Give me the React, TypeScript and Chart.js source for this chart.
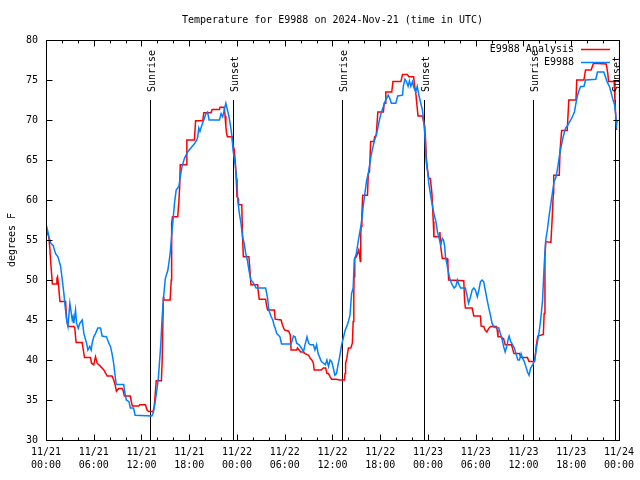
import React, { useEffect, useRef } from "react";
import { Chart, registerables } from "chart.js";

Chart.register(...registerables);

const TITLE = "Temperature for E9988 on 2024-Nov-21 (time in UTC)";
const Y_LABEL = "degrees F";
const SERIES_NAMES = ["E9988 Analysis", "E9988"];
const SERIES_COLORS = ["#ff0000", "#0080ff"];

const X_TICK_DATES = ["11/21", "11/21", "11/21", "11/21", "11/22", "11/22", "11/22", "11/22", "11/23", "11/23", "11/23", "11/23", "11/24"];
const X_TICK_TIMES = ["00:00", "06:00", "12:00", "18:00", "00:00", "06:00", "12:00", "18:00", "00:00", "06:00", "12:00", "18:00", "00:00"];

const SUNRISE_HOURS = [13.1, 37.15, 61.15];
const SUNSET_HOURS = [23.45, 47.47, 71.46];

// hours since 11/21 00:00 UTC
const analysisHours = [0.0,0.2,0.35,0.5,0.6,0.75,0.8,1.3,1.37,1.45,1.55,1.75,2.46,2.6,2.76,3.5,3.62,3.71,3.79,4.55,4.68,4.84,5.6,5.72,6.0,6.22,6.43,6.85,7.27,7.68,8.3,8.51,8.64,8.85,9.14,9.56,9.68,9.85,10.6,10.72,10.85,11.65,11.78,12.5,12.7,12.9,13.45,13.6,13.7,13.85,14.5,14.6,14.75,14.8,15.6,15.74,15.78,15.8,15.9,16.55,16.7,16.8,16.87,17.6,17.7,18.65,18.8,19.7,19.83,20.74,20.87,21.8,21.87,22.4,22.5,22.6,22.7,22.8,23.4,23.5,23.66,23.8,23.9,24.0,24.15,24.2,24.6,24.7,24.8,25.5,25.6,25.75,26.6,26.7,26.8,27.6,27.7,27.85,28.7,28.8,29.55,29.7,29.97,30.5,30.7,30.8,31.5,31.6,32.0,32.35,32.56,33.0,33.2,33.4,33.6,33.7,34.6,34.85,35.15,35.3,35.5,35.7,35.9,36.5,36.9,37.5,37.58,37.65,37.8,38.0,38.3,38.5,38.6,38.68,38.72,38.8,39.0,39.15,39.3,39.4,39.5,39.55,39.6,39.7,39.8,40.4,40.5,40.65,40.8,41.2,41.3,41.5,41.7,42.4,42.5,42.65,42.7,43.45,43.6,44.6,44.8,45.4,45.6,46.2,46.3,46.46,46.6,46.75,47.3,47.5,47.6,47.7,47.8,47.95,48.1,48.3,48.5,48.67,48.75,49.4,49.5,49.6,49.8,50.4,50.5,50.6,52.5,52.6,52.7,53.55,53.76,54.6,54.68,55.0,55.2,55.4,55.6,55.85,56.6,56.7,56.8,57.2,57.3,57.5,57.6,57.7,58.5,58.8,59.5,59.7,60.5,60.7,61.4,61.5,61.6,61.8,62.5,62.6,62.7,62.8,63.45,63.6,63.75,63.8,64.5,64.6,64.8,65.5,65.7,66.6,66.7,67.6,67.8,68.5,68.8,70.4,70.6,70.7,71.4,71.5,71.6,71.7];
const analysisTemps = [56.3,55.8,55.4,53.75,52.1,50.2,49.5,49.5,50.2,50.4,49.6,47.3,47.3,45.0,44.2,44.2,44.0,42.9,42.2,42.2,41.3,40.3,40.3,39.6,39.4,40.4,39.6,39.2,38.75,38.0,38.0,37.5,37.1,36.1,36.45,36.45,36.25,35.5,35.5,34.8,34.25,34.25,34.4,34.4,33.75,33.55,33.55,34.2,35.4,37.4,37.4,40.0,47.9,47.5,47.5,50.0,54.0,57.1,57.9,57.9,59.8,61.7,64.4,64.4,67.5,67.5,69.9,69.9,70.9,70.9,71.3,71.3,71.6,71.6,70.5,69.2,68.3,67.9,67.9,66.9,66.25,64.6,62.7,60.4,60.2,59.4,59.4,55.4,52.9,52.9,51.6,49.4,49.4,48.3,47.6,47.6,46.9,46.25,46.25,45.1,45.0,44.4,43.75,43.6,43.1,41.25,41.25,41.5,41.0,41.0,40.8,40.6,40.2,40.0,39.6,38.75,38.75,39.0,39.0,38.3,38.3,37.9,37.6,37.6,37.5,37.5,38.3,39.6,40.2,41.5,41.5,42.1,44.8,48.3,50.4,52.7,52.9,53.3,53.75,53.1,52.3,55.4,56.7,58.3,60.6,60.6,63.3,63.5,67.3,67.3,67.9,68.1,71.0,71.0,72.1,72.1,73.5,73.5,74.8,74.8,75.7,75.7,75.4,75.4,74.4,73.5,72.0,70.5,70.5,69.6,69.2,67.5,65.2,63.75,62.7,62.7,60.8,57.3,55.4,55.4,56.0,54.2,52.7,52.7,52.1,50.0,49.9,47.5,46.5,46.5,45.5,45.5,44.25,44.2,43.7,43.5,43.9,44.2,44.2,43.75,42.9,42.9,42.7,42.7,42.3,41.9,41.9,40.8,40.8,40.3,40.3,39.8,39.8,40.6,41.7,43.0,43.2,45.8,52.9,54.8,54.7,57.5,60.8,63.1,63.1,66.25,68.7,68.7,72.5,72.5,75.0,75.0,76.25,76.25,77.1,77.0,75.8,74.8,74.8,72.3,70.4,68.75];

const stationHours = [0.0,0.2,0.4,0.6,0.9,1.2,1.5,1.84,2.0,2.25,2.4,2.6,2.76,3.0,3.3,3.4,3.5,3.71,3.84,4.05,4.26,4.55,4.76,5.1,5.26,5.5,5.68,5.8,6.0,6.22,6.51,6.85,7.05,7.6,7.9,8.1,8.3,8.5,8.7,8.83,9.77,9.89,10.1,10.43,10.6,11.0,11.2,13.3,13.5,13.7,14.1,14.4,14.6,14.78,15.0,15.32,15.6,15.78,16.0,16.15,16.36,16.7,16.87,17.1,17.4,17.8,18.2,18.7,18.95,19.07,19.2,19.35,19.6,19.9,20.1,20.3,20.5,21.8,22.0,22.2,22.4,22.6,22.8,23.0,23.2,23.35,23.5,23.8,24.0,24.1,24.3,24.5,24.7,24.9,25.1,25.3,25.5,25.75,25.95,26.2,26.4,27.6,27.85,28.0,28.3,28.5,28.7,28.8,29.0,29.4,29.6,30.8,31.1,31.3,31.5,31.8,32.1,32.35,32.55,32.8,33.0,33.2,33.6,33.8,34.0,34.2,34.6,35.1,35.3,35.5,35.7,35.9,36.1,36.3,36.5,36.7,36.9,37.15,37.4,37.6,37.8,38.0,38.2,38.4,38.6,38.74,39.0,39.2,39.4,39.56,39.73,39.86,40.07,40.3,40.5,40.7,40.9,41.1,41.3,41.5,41.7,41.9,42.1,42.4,42.6,42.8,43.0,43.2,43.4,43.96,44.2,44.8,44.9,45.1,45.3,45.5,45.67,45.85,46.05,46.25,46.46,46.65,46.9,47.1,47.3,47.4,47.6,47.7,47.8,47.99,48.1,48.3,48.5,48.75,49.0,49.2,49.4,49.6,49.8,49.95,50.1,50.2,50.4,50.6,50.8,51.05,51.3,51.5,51.7,51.9,52.1,52.7,52.9,53.1,53.35,53.55,53.76,53.96,54.2,54.4,54.6,54.8,55.0,55.2,55.4,55.6,55.85,56.05,56.3,56.9,57.1,57.3,57.5,57.7,57.95,58.1,58.2,58.4,58.65,58.85,59.06,59.3,59.5,59.7,59.9,60.1,60.3,60.5,60.7,60.9,61.15,61.4,61.6,61.8,62.0,62.2,62.4,62.6,62.8,63.0,63.2,63.45,63.65,63.85,64.1,64.3,64.5,64.7,64.9,65.1,65.3,65.5,65.7,65.95,66.15,66.4,66.6,66.8,67.0,67.2,67.6,67.8,69.1,69.3,70.1,70.3,70.5,70.8,71.0,71.2,71.45,71.6,71.7,71.8];
const stationTemps = [57.0,56.2,55.3,54.6,54.3,53.3,52.9,51.7,50.4,48.3,46.7,45.0,44.2,47.1,45.0,45.4,44.6,46.25,44.6,43.96,44.6,45.0,43.3,42.1,41.25,41.7,41.25,42.1,42.9,43.3,44.0,44.0,43.0,42.9,42.1,41.7,40.8,39.6,37.9,36.95,36.95,36.0,35.0,34.8,34.0,34.0,33.1,33.0,33.5,34.6,37.5,41.6,45.4,47.9,50.2,51.25,53.3,55.4,57.9,59.6,61.25,61.7,62.9,64.2,65.2,66.0,66.5,67.1,67.5,67.9,69.0,68.6,69.4,70.2,70.8,71.0,70.0,70.0,70.8,70.4,71.25,72.1,71.25,70.4,69.2,68.1,66.25,64.2,62.1,60.0,58.3,57.1,55.4,54.6,53.3,52.5,51.25,50.0,49.8,49.4,49.0,49.0,47.7,46.25,45.4,45.0,44.2,44.0,43.3,42.9,42.0,42.0,43.0,42.9,42.1,41.9,41.5,41.0,41.9,42.9,42.1,41.9,41.9,41.25,41.9,40.8,39.8,39.4,40.0,39.2,40.0,39.8,39.0,38.1,38.3,39.4,40.4,41.9,42.9,43.75,44.2,44.8,45.6,48.3,49.0,52.5,53.3,54.6,55.8,56.7,57.9,59.2,60.8,62.5,63.3,64.6,65.8,66.7,67.5,68.1,69.0,70.0,70.8,71.7,72.3,72.7,73.1,72.7,72.1,72.1,73.0,73.1,74.2,75.1,74.8,74.2,74.9,74.2,74.8,74.0,73.5,74.2,72.9,72.1,71.25,70.4,68.3,66.25,64.6,63.3,62.1,60.8,59.6,58.3,57.3,56.0,55.2,54.4,55.2,55.0,54.2,52.9,51.9,50.8,50.0,49.4,49.0,49.2,50.0,49.4,49.0,49.0,48.1,47.1,47.9,48.75,49.0,48.75,47.9,48.75,49.8,50.0,49.8,48.75,47.7,46.7,45.6,44.6,44.1,44.0,43.3,42.7,41.7,41.0,41.9,42.7,43.0,42.3,41.9,41.5,40.8,40.0,40.0,40.8,40.2,39.8,39.2,38.5,38.1,39.0,39.4,40.0,41.25,42.5,43.75,45.4,47.5,51.7,55.0,56.25,57.9,59.6,61.0,62.3,62.9,64.0,65.4,66.5,67.5,68.3,69.0,69.2,69.6,70.0,70.4,71.0,72.1,73.1,73.75,74.2,74.2,75.0,75.1,76.0,76.0,75.4,74.8,74.2,73.5,72.7,71.9,70.6,69.4,70.0];

const FONT = "'DejaVu Sans Mono', 'Liberation Mono', monospace";

const toPoints = (xs: number[], ys: number[]) => xs.map((x, i) => ({ x, y: ys[i] }));

const sunLines = () => [
  ...SUNRISE_HOURS.map((h) => ({ h, label: "Sunrise" })),
  ...SUNSET_HOURS.map((h) => ({ h, label: "Sunset" })),
];

const decorPlugin = {
  id: "gnuplotDecor",
  beforeDatasetsDraw(chart: any) {
    const ctx = chart.ctx;
    const xs = chart.scales.x;
    const { bottom } = chart.chartArea;
    ctx.save();
    ctx.strokeStyle = "#000";
    ctx.lineWidth = 1;
    for (const l of sunLines()) {
      const px = Math.round(xs.getPixelForValue(l.h)) + 0.5;
      ctx.beginPath();
      ctx.moveTo(px, 100);
      ctx.lineTo(px, bottom);
      ctx.stroke();
    }
    ctx.restore();
  },
  afterDraw(chart: any) {
    const ctx = chart.ctx;
    const xs = chart.scales.x;
    const ys = chart.scales.y;
    const { left, right, top, bottom } = chart.chartArea;
    ctx.save();
    ctx.strokeStyle = "#000";
    ctx.lineWidth = 1;
    ctx.strokeRect(left + 0.5, top + 0.5, right - left, bottom - top);
    ctx.beginPath();
    for (let h = 0; h <= 72; h += 2) {
      const px = Math.round(xs.getPixelForValue(h)) + 0.5;
      const len = h % 6 === 0 ? 6 : 3;
      ctx.moveTo(px, bottom + 0.5);
      ctx.lineTo(px, bottom + 0.5 - len);
      ctx.moveTo(px, top + 0.5);
      ctx.lineTo(px, top + 0.5 + len);
    }
    for (let v = 30; v <= 80; v += 5) {
      const py = Math.round(ys.getPixelForValue(v)) + 0.5;
      ctx.moveTo(left + 0.5, py);
      ctx.lineTo(left + 6.5, py);
      ctx.moveTo(right + 0.5, py);
      ctx.lineTo(right - 5.5, py);
    }
    ctx.stroke();

    ctx.fillStyle = "#000";
    ctx.font = `10px ${FONT}`;
    ctx.textAlign = "center";
    ctx.textBaseline = "middle";
    ctx.fillText(TITLE, (left + right) / 2, 20);

    for (const l of sunLines()) {
      const px = Math.round(xs.getPixelForValue(l.h)) + 0.5;
      ctx.save();
      ctx.translate(px + 1.5, 92);
      ctx.rotate(-Math.PI / 2);
      ctx.textAlign = "left";
      ctx.textBaseline = "middle";
      ctx.fillText(l.label, 0, 0);
      ctx.restore();
    }

    const legendY = [49, 62];
    SERIES_NAMES.forEach((name, i) => {
      ctx.textAlign = "right";
      ctx.textBaseline = "middle";
      ctx.fillStyle = "#000";
      ctx.fillText(name, 574, legendY[i]);
      ctx.strokeStyle = SERIES_COLORS[i];
      ctx.lineWidth = 1.5;
      ctx.beginPath();
      ctx.moveTo(581, legendY[i] + 0.5);
      ctx.lineTo(610, legendY[i] + 0.5);
      ctx.stroke();
    });
    ctx.restore();
  },
};

export default function App() {
  const ref = useRef<HTMLCanvasElement | null>(null);
  useEffect(() => {
    if (!ref.current) return;
    const chart = new Chart(ref.current, {
      type: "line",
      data: {
        datasets: [
          {
            label: SERIES_NAMES[0],
            data: toPoints(analysisHours, analysisTemps),
            borderColor: SERIES_COLORS[0],
            backgroundColor: SERIES_COLORS[0],
            borderWidth: 1.5,
            pointRadius: 0,
            tension: 0,
            fill: false,
            order: 1,
          },
          {
            label: SERIES_NAMES[1],
            data: toPoints(stationHours, stationTemps),
            borderColor: SERIES_COLORS[1],
            backgroundColor: SERIES_COLORS[1],
            borderWidth: 1.5,
            pointRadius: 0,
            tension: 0,
            fill: false,
            order: 0,
          },
        ],
      },
      options: {
        animation: false,
        responsive: false,
        maintainAspectRatio: false,
        devicePixelRatio: 1,
        layout: { padding: { top: 40, right: 19, left: 0, bottom: 0 } },
        plugins: {
          legend: { display: false },
          tooltip: { enabled: false },
          title: { display: false },
        },
        scales: {
          x: {
            type: "linear",
            min: 0,
            max: 72,
            grid: { display: false, drawTicks: false },
            border: { display: false },
            ticks: {
              stepSize: 6,
              autoSkip: false,
              maxRotation: 0,
              minRotation: 0,
              padding: 6,
              color: "#000",
              font: { family: FONT, size: 10, lineHeight: 1.3 },
              callback: (v: any) => {
                const i = Math.round(Number(v) / 6);
                return [X_TICK_DATES[i], X_TICK_TIMES[i]];
              },
            },
            afterFit: (s: any) => {
              s.height = 40;
            },
          },
          y: {
            min: 30,
            max: 80,
            grid: { display: false, drawTicks: false },
            border: { display: false },
            ticks: {
              stepSize: 5,
              padding: 8,
              color: "#000",
              font: { family: FONT, size: 10 },
            },
            title: {
              display: true,
              text: Y_LABEL,
              color: "#000",
              font: { family: FONT, size: 10, lineHeight: 1.2 },
              padding: { top: 6, bottom: 0 },
            },
            afterFit: (s: any) => {
              s.width = 46;
            },
          },
        },
      },
      plugins: [decorPlugin],
    });
    return () => chart.destroy();
  }, []);
  return (
    <div style={{ position: "fixed", left: 0, top: 0, width: 640, height: 480, background: "#fff" }}>
      <canvas ref={ref} width={640} height={480} style={{ display: "block" }} />
    </div>
  );
}
